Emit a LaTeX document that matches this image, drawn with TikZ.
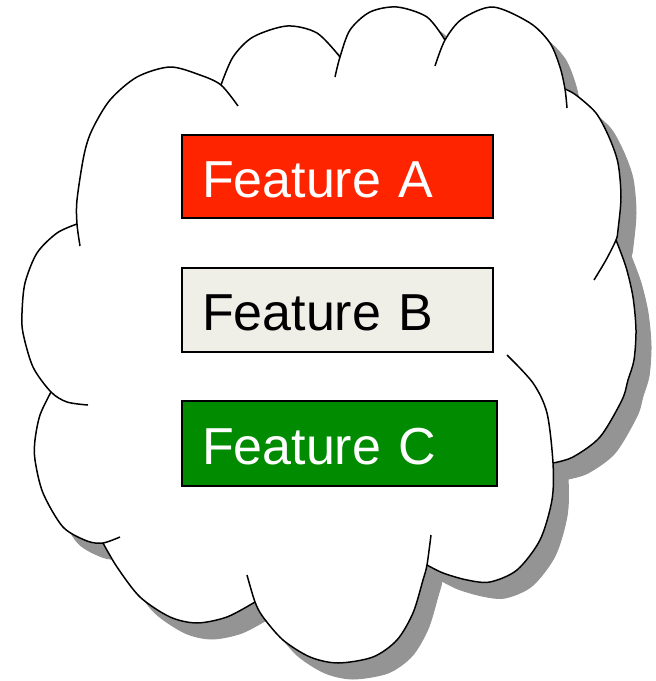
\documentclass[tikz,border=0pt]{standalone}
\usepackage{fontspec}
\setmainfont{Liberation Sans}
\definecolor{shadowgray}{HTML}{949494}
\definecolor{redA}{HTML}{FF2400}
\definecolor{beigeB}{HTML}{EFEFE8}
\definecolor{greenC}{HTML}{008B00}
\begin{document}
\begin{tikzpicture}[x=1pt,y=-1pt,
  bulgeA/.style={insert path={plot[smooth] coordinates {(80,246) (77,224) (77,200) (84,155) (92,130) (110,100) (137,77) (170,67) (200,75) (221,85) (238,106)}}},
  bulgeB/.style={insert path={plot[smooth] coordinates {(221,85) (233,57) (253,37) (287,26) (317,33) (340,57)}}},
  bulgeC/.style={insert path={plot[smooth] coordinates {(335,77) (340,57) (350,30) (370,12) (397,7) (427,17) (445,40)}}},
  bulgeD/.style={insert path={plot[smooth] coordinates {(435,66) (445,40) (462,19) (493,7) (530,23) (550,43) (560,67) (565,89) (567,108)}}},
  bulgeE/.style={insert path={plot[smooth] coordinates {(565,89) (576,95) (596,113) (609,137) (618,163) (621,197) (618,230) (616,240) (606,260) (594,280)}}},
  bulgeF/.style={insert path={plot[smooth] coordinates {(616,240) (626,267) (633,297) (636,330) (634,360) (628,380) (622,400) (600,437) (573,457) (553,463)}}},
  bulgeG/.style={insert path={plot[smooth] coordinates {(507,355) (533,383) (547,413) (553,463) (552,500) (540,540) (517,570) (490,582) (467,580) (443,573) (427,565)}}},
  bulgeH/.style={insert path={plot[smooth] coordinates {(431,535) (427,565) (423,580) (413,613) (397,640) (373,657) (338,663) (310,657) (283,640) (263,617) (255,602) (247,575)}}},
  bulgeI/.style={insert path={plot[smooth] coordinates {(255,602) (227,617) (197,623) (170,617) (140,597) (117,567) (103,543)}}},
  bulgeJ/.style={insert path={plot[smooth] coordinates {(120,537) (103,543) (87,541) (63,527) (43,493) (35,460) (35,440) (40,415) (51,392)}}},
  bulgeK/.style={insert path={plot[smooth] coordinates {(88,405) (67,402) (51,392) (33,367) (23,333) (22,313) (25,283) (37,253) (57,233) (77,224)}}},
  corepoly/.style={insert path={(77,224) -- (221,85) -- (340,57) -- (445,40) -- (565,89) -- (616,240) -- (553,463) -- (427,565) -- (255,602) -- (103,543) -- (51,392) -- cycle}},
  shadowfill/.style={fill=shadowgray,draw=shadowgray,line width=1pt,line join=round},
  bodyfill/.style={fill=white,draw=white,line width=1pt,line join=round},
  cloudline/.style={draw=black,line width=1.5pt},
  featbox/.style={draw=black,line width=2pt,anchor=north west,outer sep=0pt,
    inner xsep=20pt,inner ysep=0pt,text height=41.5pt,text depth=0pt,
    align=left,font=\fontsize{52}{60}\selectfont}]
\useasboundingbox (0,0) rectangle (656,681);
% shadow
\begin{scope}[shift={(15,16)}]
  \foreach \b in {bulgeA,bulgeB,bulgeC,bulgeD,bulgeE,bulgeF,bulgeG,bulgeH,bulgeI,bulgeJ,bulgeK}{
    \path[shadowfill,\b] -- cycle;
  }
  \path[shadowfill,corepoly];
\end{scope}
% white body
\foreach \b in {bulgeA,bulgeB,bulgeC,bulgeD,bulgeE,bulgeF,bulgeG,bulgeH,bulgeI,bulgeJ,bulgeK}{
  \path[bodyfill,\b] -- cycle;
}
\path[bodyfill,corepoly];
% outline
\foreach \b in {bulgeA,bulgeB,bulgeC,bulgeD,bulgeE,bulgeF,bulgeG,bulgeH,bulgeI,bulgeJ,bulgeK}{
  \draw[cloudline,\b];
}
% feature boxes
\node[featbox,fill=redA,text=white,text width=271pt,minimum height=83pt] (a) at (182,135) {Feature A};
\node[featbox,fill=beigeB,text=black,text width=271pt,minimum height=84pt] (b) at (182,268) {Feature B};
\node[featbox,fill=greenC,text=white,text width=275pt,minimum height=85pt] (c) at (182,401) {Feature C};
\end{tikzpicture}
\end{document}
